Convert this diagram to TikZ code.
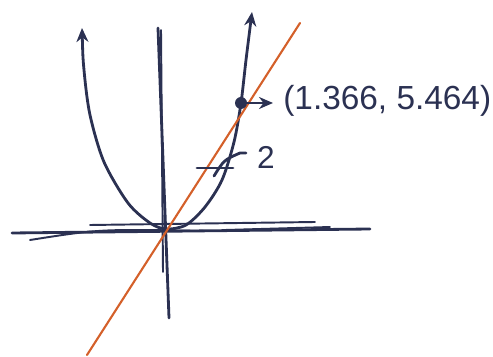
\documentclass[tikz,border=0pt]{standalone}
\usepackage{fontspec}
\setmainfont{Liberation Sans}
\usepackage{xcolor}
\usetikzlibrary{arrows.meta}
\definecolor{inkblue}{HTML}{2B3152}
\definecolor{inkorange}{HTML}{D4602A}

\begin{document}
\begin{tikzpicture}[x=0.02cm,y=-0.02cm,>={Stealth[length=2.8mm,width=2.4mm]},
  ink/.style={inkblue,line width=1.6pt,line cap=round,line join=round},
  thinink/.style={inkblue,line width=1.1pt,line cap=round}]
  \useasboundingbox (0,0) rectangle (493,357);
  % axes
  \coordinate (ytop) at (158,28);
  \coordinate (ybot) at (169,318);
  \coordinate (xleft) at (12,233);
  \coordinate (xright) at (370,229);
  \draw[ink] (ytop) -- (ybot);
  \draw[thinink] (161,30) -- (163,272);
  \draw[ink] (xleft) -- (xright);
  \draw[thinink] (30,240) .. controls (100,229) .. (205,231);
  \draw[thinink] (90,225) -- (315,222);
  \draw[thinink] (225,230) -- (330,227);
  % parabola
  \draw[ink,<->] plot[smooth] coordinates {(82,28) (84,70) (90,115) (104,162) (128,203) (150,223) (166,229) (186,225) (205,207) (222,180) (234,142) (241,103) (246,60) (252,12)};
  % line
  \coordinate (obot) at (87,355);
  \coordinate (otop) at (300,23);
  \draw[inkorange,line width=1.2pt,line cap=round] (obot) -- (otop);
  % point and label
  \node[circle,fill=inkblue,inner sep=0pt,minimum size=2.4mm] (pt) at (241,103) {};
  \coordinate (ptend) at (273,103);
  \draw[ink,->] (pt) -- (ptend);
  \node[anchor=west,inkblue,font=\fontsize{19}{21}\selectfont,inner sep=0pt] (ptlabel) at (283,101) {(1.366, 5.464)};
  % slope mark
  \coordinate (sa) at (197,168);
  \coordinate (sb) at (233,168);
  \draw[ink] (sa) -- (sb);
  \draw[ink] (214,176) .. controls (224,160) .. (240,153) -- (246,153);
  \node[inkblue,font=\fontsize{18}{20}\selectfont,inner sep=0pt] (two) at (266,157) {2};
\end{tikzpicture}
\end{document}
